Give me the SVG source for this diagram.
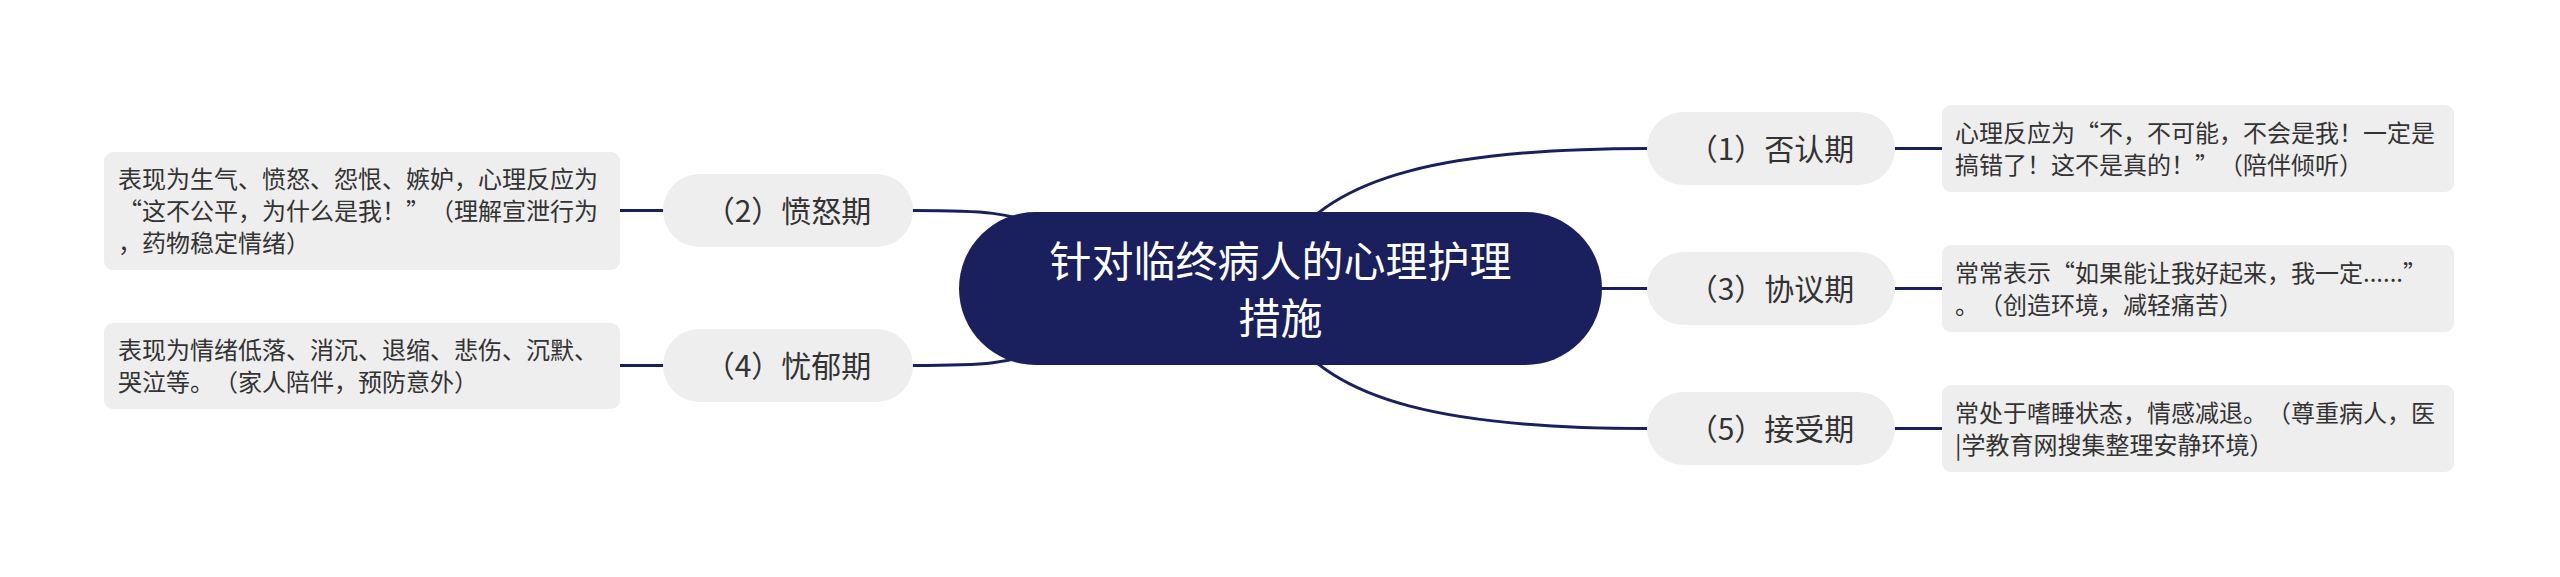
<svg xmlns="http://www.w3.org/2000/svg" width="2560" height="577" viewBox="0 0 2560 577">
<style>
.conn{fill:none;stroke:#1a1f5e;stroke-width:3;stroke-linecap:round}
.pill{fill:#eeeeee}
.box{fill:#eeeeee}
text{text-spacing-trim:space-all}
.ptxt{font-family:"Noto Sans CJK SC","Noto Sans",sans-serif;font-size:30px;fill:#333333;text-anchor:middle}
.btxt{font-family:"Noto Sans CJK SC","Noto Sans",sans-serif;font-size:24px;fill:#333333}
.ctxt{font-family:"Noto Sans CJK SC","Noto Sans",sans-serif;font-size:42px;fill:#ffffff;text-anchor:middle}
</style>
<rect width="2560" height="577" fill="#ffffff"/>
<g id="connectors">
<path class="conn" d="M1285 250 C1330 175 1450 148.5 1647 148.5"/>
<path class="conn" d="M1590 288.5 L1647 288.5"/>
<path class="conn" d="M1285 327 C1330 402 1450 428.5 1647 428.5"/>
<path class="conn" d="M913 210.5 C980 210.5 1010 211 1060 232"/>
<path class="conn" d="M913 365.5 C980 365.5 1010 365 1060 345"/>
<path class="conn" d="M1895 148.5 L1942 148.5"/>
<path class="conn" d="M1895 288.5 L1942 288.5"/>
<path class="conn" d="M1895 428.5 L1942 428.5"/>
<path class="conn" d="M620 210.5 L663 210.5"/>
<path class="conn" d="M620 365.5 L663 365.5"/>
</g>
<g id="root">
<rect x="959" y="212" width="643" height="153" rx="76.5" fill="#1a1f5e"/>
<text class="ctxt" x="1280.5" y="277">针对临终病人的心理护理</text>
<text class="ctxt" x="1280.5" y="334">措施</text>
</g>
<g id="n1">
<rect class="pill" x="1647" y="112" width="248" height="73" rx="36.5"/>
<text class="ptxt" x="1771" y="159.5">（1）否认期</text>
</g>
<g id="n1d">
<rect class="box" x="1942" y="105" width="512" height="87" rx="9"/>
<text class="btxt" x="1955" y="141.5">心理反应为“不，不可能，不会是我！一定是</text>
<text class="btxt" x="1955" y="173.5">搞错了！这不是真的！”（陪伴倾听）</text>
</g>
<g id="n3">
<rect class="pill" x="1647" y="252" width="248" height="73" rx="36.5"/>
<text class="ptxt" x="1771" y="299.5">（3）协议期</text>
</g>
<g id="n3d">
<rect class="box" x="1942" y="245" width="512" height="87" rx="9"/>
<text class="btxt" x="1955" y="281.5">常常表示“如果能让我好起来，我一定......”</text>
<text class="btxt" x="1955" y="313.5">。（创造环境，减轻痛苦）</text>
</g>
<g id="n5">
<rect class="pill" x="1647" y="392" width="248" height="73" rx="36.5"/>
<text class="ptxt" x="1771" y="439.5">（5）接受期</text>
</g>
<g id="n5d">
<rect class="box" x="1942" y="385" width="512" height="87" rx="9"/>
<text class="btxt" x="1955" y="421.5">常处于嗜睡状态，情感减退。（尊重病人，医</text>
<text class="btxt" x="1955" y="453.5">|学教育网搜集整理安静环境）</text>
</g>
<g id="n2">
<rect class="pill" x="663" y="174" width="250" height="73" rx="36.5"/>
<text class="ptxt" x="788" y="221.5">（2）愤怒期</text>
</g>
<g id="n2d">
<rect class="box" x="104" y="152" width="516" height="118" rx="9"/>
<text class="btxt" x="118" y="188">表现为生气、愤怒、怨恨、嫉妒，心理反应为</text>
<text class="btxt" x="118" y="220">“这不公平，为什么是我！”（理解宣泄行为</text>
<text class="btxt" x="118" y="252">，药物稳定情绪）</text>
</g>
<g id="n4">
<rect class="pill" x="663" y="329" width="250" height="73" rx="36.5"/>
<text class="ptxt" x="788" y="376.5">（4）忧郁期</text>
</g>
<g id="n4d">
<rect class="box" x="104" y="323" width="516" height="86" rx="9"/>
<text class="btxt" x="118" y="359">表现为情绪低落、消沉、退缩、悲伤、沉默、</text>
<text class="btxt" x="118" y="391">哭泣等。（家人陪伴，预防意外）</text>
</g>
</svg>
